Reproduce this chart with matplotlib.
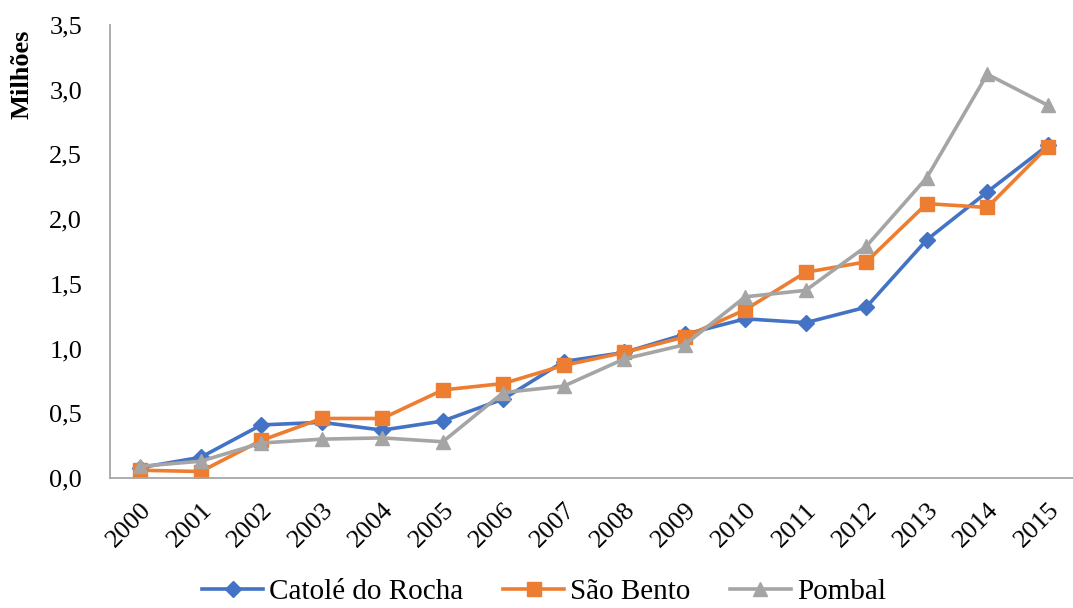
import matplotlib.pyplot as plt
import numpy as np

years = [str(y) for y in range(2000, 2016)]
catole = [0.08, 0.16, 0.41, 0.43, 0.37, 0.44, 0.61, 0.90, 0.97, 1.11, 1.23, 1.20, 1.32, 1.84, 2.21, 2.57]
sao_bento = [0.06, 0.05, 0.29, 0.46, 0.46, 0.68, 0.73, 0.87, 0.97, 1.09, 1.30, 1.59, 1.67, 2.12, 2.09, 2.56]
pombal = [0.09, 0.13, 0.27, 0.30, 0.31, 0.28, 0.66, 0.71, 0.92, 1.03, 1.40, 1.45, 1.79, 2.32, 3.12, 2.88]
y_ticks = [0.0, 0.5, 1.0, 1.5, 2.0, 2.5, 3.0, 3.5]

plt.rcParams["font.family"] = ["Liberation Serif", "DejaVu Serif"]

fig = plt.figure(figsize=(10.73, 6.08), dpi=100)
ax = fig.add_axes([110 / 1073, 1 - 478 / 608, 968 / 1073, 453 / 608])

x = np.arange(len(years))
series = [
    ("Catolé do Rocha", catole, "#4472C4", "D", 8),
    ("São Bento", sao_bento, "#ED7D31", "s", 10),
    ("Pombal", pombal, "#A5A5A5", "^", 10),
]
for name, vals, color, marker, ms in series:
    ax.plot(x, vals, color=color, marker=marker, markersize=ms, linewidth=2.6, label=name)

ax.set_xlim(-0.5, len(years) - 0.5)
ax.set_ylim(0, 3.5)
ax.set_yticks(y_ticks)
ax.set_yticklabels([f"{v:.1f}".replace(".", ",") for v in y_ticks], fontsize=19)
ax.set_xticks(x)
ax.set_xticklabels(years, rotation=45, ha="right", rotation_mode="anchor", fontsize=19)
ax.tick_params(axis="y", length=0, pad=20)
ax.tick_params(axis="x", length=0, pad=15)

for side in ("top", "right"):
    ax.spines[side].set_visible(False)
for side in ("left", "bottom"):
    ax.spines[side].set_color("#A6A6A6")
    ax.spines[side].set_linewidth(1.3)

fig.text(22 / 1073, 1 - 74 / 608, "Milhões", rotation=90, ha="center", va="center",
         fontsize=19, fontweight="bold")

fig.legend(loc="center", bbox_to_anchor=(544 / 1073, 1 - 592 / 608), ncol=3, frameon=False,
           fontsize=21, handlelength=2.1, columnspacing=1.35, handletextpad=0.2)

fig.savefig("out.png", dpi=100)
